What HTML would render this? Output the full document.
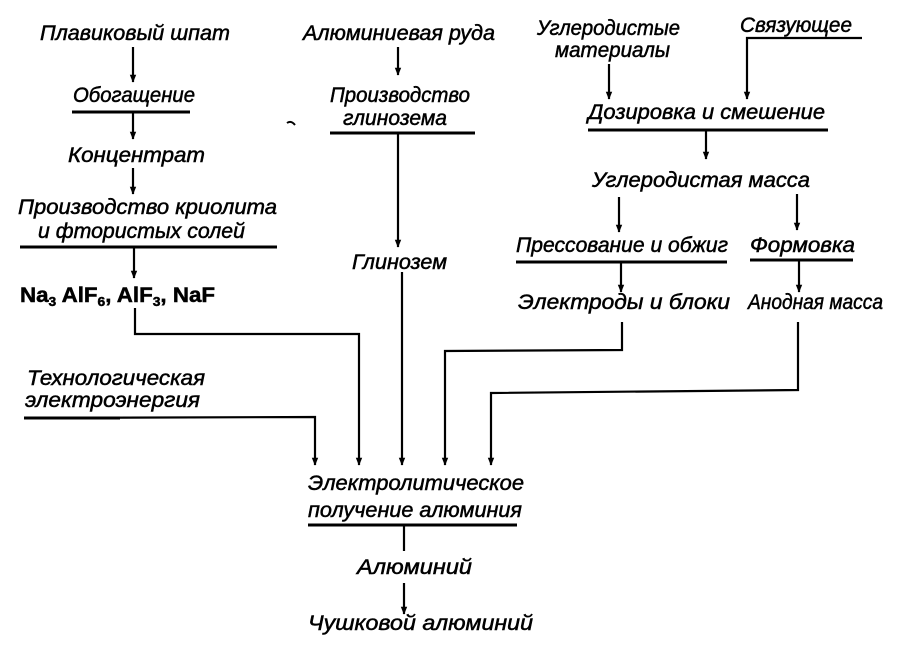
<!DOCTYPE html>
<html><head><meta charset="utf-8"><style>
html,body{margin:0;padding:0;background:#fff;width:910px;height:654px;overflow:hidden}
svg text{font-family:"Liberation Sans","DejaVu Sans",sans-serif;font-style:italic;font-size:21px;fill:#000;stroke:#000;stroke-width:0.5px}
</style></head><body>
<svg width="910" height="654" viewBox="0 0 910 654" xmlns="http://www.w3.org/2000/svg">
<defs><marker id="a" viewBox="0 0 10 10" refX="9" refY="5" markerWidth="9" markerHeight="8" orient="auto" markerUnits="userSpaceOnUse"><path d="M0,1 L10,5 L0,9 z" fill="#000"/></marker></defs>
<g stroke="#000" stroke-width="2.2" fill="none">
<line x1="133" y1="47" x2="133" y2="82" marker-end="url(#a)"/>
<line x1="133" y1="112" x2="133" y2="139" marker-end="url(#a)"/>
<line x1="133" y1="168" x2="133" y2="194" marker-end="url(#a)"/>
<line x1="134" y1="248" x2="134" y2="278" marker-end="url(#a)"/>
<polyline points="135,308 135,334 359,334 359,465" marker-end="url(#a)"/>
<line x1="398" y1="47" x2="398" y2="75" marker-end="url(#a)"/>
<line x1="398" y1="133" x2="398" y2="247" marker-end="url(#a)"/>
<line x1="402" y1="272" x2="402" y2="465" marker-end="url(#a)"/>
<line x1="609" y1="64" x2="609" y2="99" marker-end="url(#a)"/>
<polyline points="862,38 747,38 747,99" marker-end="url(#a)"/>
<line x1="706" y1="130" x2="706" y2="159" marker-end="url(#a)"/>
<line x1="619" y1="197" x2="619" y2="232" marker-end="url(#a)"/>
<line x1="797" y1="194" x2="797" y2="230" marker-end="url(#a)"/>
<line x1="621" y1="262" x2="621" y2="292" marker-end="url(#a)"/>
<line x1="799" y1="261" x2="799" y2="292" marker-end="url(#a)"/>
<polyline points="622,322 622,350 445,351 445,465" marker-end="url(#a)"/>
<polyline points="798,322 798,390 491,393 491,465" marker-end="url(#a)"/>
<polyline points="24,418 315,417 315,465" marker-end="url(#a)"/>
<line x1="404" y1="525" x2="404" y2="551"/>
<line x1="404" y1="583" x2="404" y2="614" marker-end="url(#a)"/>
</g>
<g stroke="#000" stroke-width="3">
<line x1="72" y1="112" x2="190" y2="112"/>
<line x1="20" y1="247" x2="277" y2="247"/>
<line x1="330" y1="133" x2="475" y2="133"/>
<line x1="588" y1="130" x2="828" y2="130"/>
<line x1="516" y1="262" x2="727" y2="262"/>
<line x1="750" y1="260" x2="853" y2="260"/>
<line x1="308" y1="525" x2="517" y2="525"/>
<line x1="24" y1="418" x2="120" y2="418"/>
</g>
<path d="M287,123 q4,-3 8,2" stroke="#000" stroke-width="2" fill="none"/>
<text x="40" y="40" textLength="190" lengthAdjust="spacingAndGlyphs">Плавиковый шпат</text>
<text x="73" y="102" textLength="122" lengthAdjust="spacingAndGlyphs">Обогащение</text>
<text x="68" y="162" textLength="137" lengthAdjust="spacingAndGlyphs">Концентрат</text>
<text x="18" y="214" textLength="259" lengthAdjust="spacingAndGlyphs">Производство криолита</text>
<text x="38" y="238" textLength="207" lengthAdjust="spacingAndGlyphs">и фтористых солей</text>
<text x="20" y="302" textLength="195" lengthAdjust="spacingAndGlyphs" style="font-style:normal;font-weight:bold">Na<tspan font-size="13" dy="4">3</tspan><tspan dy="-4"> AlF</tspan><tspan font-size="13" dy="4">6</tspan><tspan dy="-4">, AlF</tspan><tspan font-size="13" dy="4">3</tspan><tspan dy="-4">, NaF</tspan></text>
<text x="303" y="40" textLength="192" lengthAdjust="spacingAndGlyphs">Алюминиевая руда</text>
<text x="330" y="102" textLength="140" lengthAdjust="spacingAndGlyphs">Производство</text>
<text x="343" y="125" textLength="104" lengthAdjust="spacingAndGlyphs">глинозема</text>
<text x="352" y="269" textLength="95" lengthAdjust="spacingAndGlyphs">Глинозем</text>
<text x="537" y="35" textLength="143" lengthAdjust="spacingAndGlyphs">Углеродистые</text>
<text x="555" y="57" textLength="115" lengthAdjust="spacingAndGlyphs">материалы</text>
<text x="740" y="32" textLength="112" lengthAdjust="spacingAndGlyphs">Связующее</text>
<text x="588" y="119" textLength="237" lengthAdjust="spacingAndGlyphs">Дозировка и смешение</text>
<text x="592" y="187" textLength="218" lengthAdjust="spacingAndGlyphs">Углеродистая масса</text>
<text x="516" y="252" textLength="212" lengthAdjust="spacingAndGlyphs">Прессование и обжиг</text>
<text x="750" y="252" textLength="105" lengthAdjust="spacingAndGlyphs">Формовка</text>
<text x="518" y="309" textLength="212" lengthAdjust="spacingAndGlyphs">Электроды и блоки</text>
<text x="748" y="309" textLength="135" lengthAdjust="spacingAndGlyphs">Анодная масса</text>
<text x="27" y="385" textLength="178" lengthAdjust="spacingAndGlyphs">Технологическая</text>
<text x="25" y="407" textLength="175" lengthAdjust="spacingAndGlyphs">электроэнергия</text>
<text x="308" y="490" textLength="216" lengthAdjust="spacingAndGlyphs">Электролитическое</text>
<text x="308" y="517" textLength="214" lengthAdjust="spacingAndGlyphs">получение алюминия</text>
<text x="357" y="574" textLength="115" lengthAdjust="spacingAndGlyphs">Алюминий</text>
<text x="308" y="630" textLength="225" lengthAdjust="spacingAndGlyphs">Чушковой алюминий</text>
</svg>
</body></html>
